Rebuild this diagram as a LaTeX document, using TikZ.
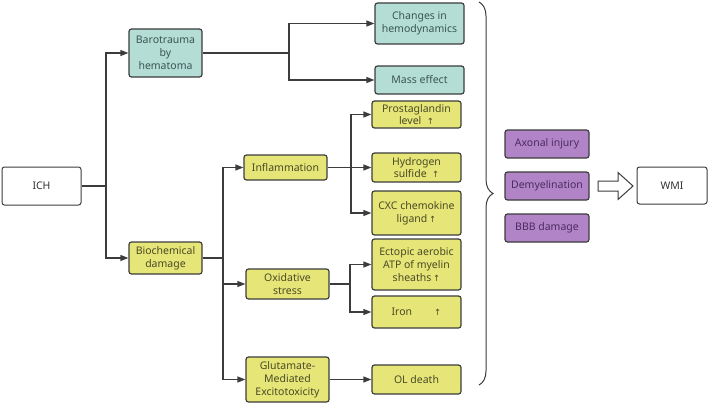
\documentclass[tikz,border=0pt]{standalone}
\usepackage{fontspec}
\setmainfont{Noto Sans}
\newfontfamily\arrowfont{DejaVu Sans}
\usepackage{tikz}
\usetikzlibrary{arrows.meta,decorations.pathreplacing}
\definecolor{ichline}{HTML}{3C3C3C}
\definecolor{ichteal}{HTML}{B4DDD6}
\definecolor{ichtealtext}{HTML}{3A5652}
\definecolor{ichyellow}{HTML}{E6E678}
\definecolor{ichyellowtext}{HTML}{4A4A26}
\definecolor{ichpurple}{HTML}{B184C8}
\definecolor{ichpurpletext}{HTML}{4C2C5E}
\newcommand{\ichup}{{\arrowfont\fontsize{8.5}{10}\selectfont ↑}}
\tikzset{
 ich box/.style={draw=ichline,line width=1.2pt,rounded corners=2.5pt,align=center,
                 inner sep=1pt,font=\fontsize{10.5}{12.8}\selectfont},
 ich plain/.style={ich box,line width=1pt,fill=white,text=black!80},
 ich teal/.style={ich box,fill=ichteal,text=ichtealtext},
 ich yellow/.style={ich box,fill=ichyellow,text=ichyellowtext},
 ich purple/.style={ich box,fill=ichpurple,text=ichpurpletext,
                    minimum width=84pt,minimum height=28pt},
 ich link/.style={draw=ichline,line width=1.2pt},
 ich arrow/.style={ich link,-{Triangle[length=8pt,width=6pt]}}
}
\begin{document}
\begin{tikzpicture}[x=1pt,y=-1pt]
 \useasboundingbox (0,0) rectangle (709,404);
 \node[ich plain,minimum width=79pt,minimum height=38pt] (ich) at (41.5,186) {ICH};
 \node[ich teal,minimum width=73pt,minimum height=48pt] (baro) at (165.5,53)
   {Barotrauma\\by\\hematoma};
 \node[ich yellow,minimum width=73pt,minimum height=32pt] (bio) at (165.5,258)
   {Biochemical\\damage};
 \node[ich yellow,minimum width=83pt,minimum height=25pt] (infl) at (285.5,167.5)
   {Inflammation};
 \node[ich yellow,minimum width=83pt,minimum height=30pt] (oxi) at (287.5,284)
   {Oxidative\\stress};
 \node[ich yellow,minimum width=83pt,minimum height=45pt] (glu) at (287.5,379.5)
   {Glutamate-\\Mediated\\Excitotoxicity};
 \node[ich teal,minimum width=89pt,minimum height=41pt] (hemo) at (419.5,23.5)
   {Changes in\\hemodynamics};
 \node[ich teal,minimum width=89pt,minimum height=28pt] (mass) at (419.5,80)
   {Mass effect};
 \node[ich yellow,minimum width=89pt,minimum height=27pt] (pros) at (416.5,114.5)
   {Prostaglandin\\level\ \ \ichup};
 \node[ich yellow,minimum width=89pt,minimum height=29pt] (hyd) at (416.5,167.5)
   {Hydrogen\\sulfide\ \ \ichup};
 \node[ich yellow,minimum width=89pt,minimum height=44pt] (cxc) at (416.5,213)
   {CXC chemokine\\ligand\,\ichup};
 \node[ich yellow,minimum width=89pt,minimum height=51pt] (ect) at (416.5,264.5)
   {Ectopic aerobic\\ATP of myelin\\sheaths\,\ichup};
 \node[ich yellow,minimum width=89pt,minimum height=32pt] (iron) at (416.5,312)
   {Iron\hspace{22pt}\ichup};
 \node[ich yellow,minimum width=89pt,minimum height=29pt] (ol) at (416.5,379.5)
   {OL death};
 \node[ich purple] (axon) at (547,144) {Axonal injury};
 \node[ich purple] (demy) at (547,186) {Demyelination};
 \node[ich purple] (bbb) at (547,228) {BBB damage};
 \node[ich plain,minimum width=70pt,minimum height=37pt] (wmi) at (672,185.5) {WMI};

 \coordinate (ichfork) at (106,186);
 \draw[ich link] (ich) -- (ichfork);
 \draw[ich arrow] (ichfork) |- (baro);
 \draw[ich arrow] (ichfork) |- (bio);
 \coordinate (barofork) at (289,53);
 \draw[ich link] (baro) -- (barofork);
 \draw[ich arrow] (barofork) |- (hemo);
 \draw[ich arrow] (barofork) |- (mass);
 \coordinate (biofork) at (223,258);
 \draw[ich link] (bio) -- (biofork);
 \foreach \t in {infl,oxi,glu} \draw[ich arrow] (biofork) |- (\t);
 \coordinate (inflfork) at (351,167.5);
 \draw[ich link] (infl) -- (inflfork);
 \foreach \t in {pros,hyd,cxc} \draw[ich arrow] (inflfork) |- (\t);
 \coordinate (oxifork) at (350,284);
 \draw[ich link] (oxi) -- (oxifork);
 \foreach \t in {ect,iron} \draw[ich arrow] (oxifork) |- (\t);
 \draw[ich arrow] (glu) -- (ol);

 \coordinate (bracetop) at (479,2);
 \coordinate (bracebot) at (479,385);
 \draw[ich link,line width=1pt,decorate,decoration={brace,amplitude=14pt}]
   (bracetop) -- (bracebot);
 \draw[ich link,line width=1pt,fill=white] (598,181) -- (618,181) -- (618,172.5)
   -- (633,186) -- (618,199.5) -- (618,191) -- (598,191) -- cycle;
\end{tikzpicture}
\end{document}
